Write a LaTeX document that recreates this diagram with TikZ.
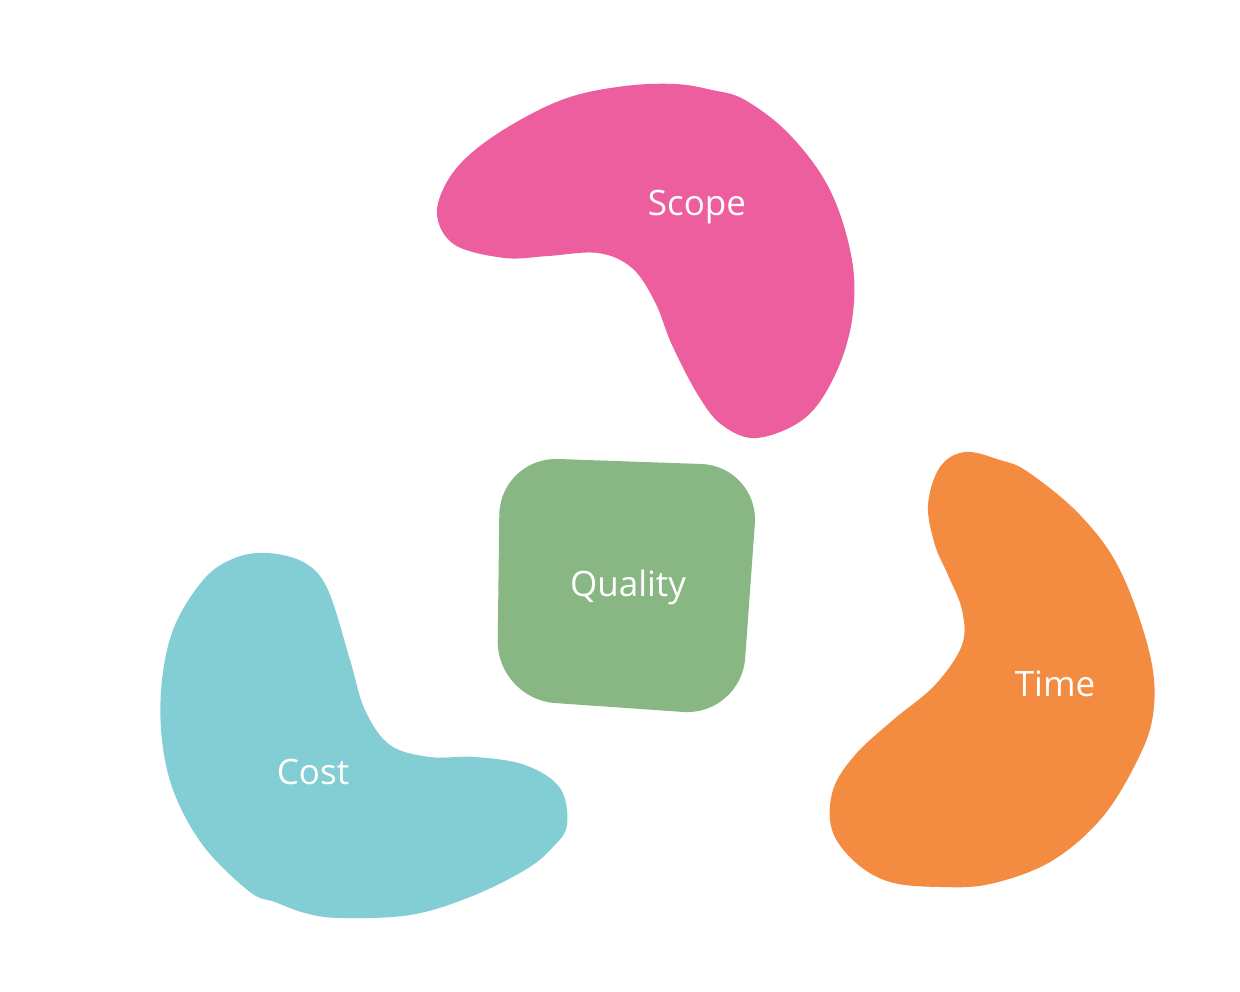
\documentclass[tikz,border=0pt]{standalone}
\usepackage{fontspec}
\setmainfont{Open Sans}
\definecolor{scopecol}{HTML}{ED5E9E}
\definecolor{qualcol}{HTML}{88B783}
\definecolor{timecol}{HTML}{F38B41}
\definecolor{costcol}{HTML}{83CED4}
\tikzset{
  blob/.style={draw=none},
  lbl/.style={text=white, font=\fontsize{35}{42}\selectfont}
}
\begin{document}
\begin{tikzpicture}[x=1pt,y=-1pt]
\useasboundingbox[fill=white] (0,0) rectangle (1240,992);
% Scope
\fill[scopecol] plot[smooth cycle, tension=0.6] coordinates {
 (675,84) (712,90) (745,100) (790,135) (830,190) (852,260) (852,320) (835,375)
 (805,418) (757,438) (722,425) (698,395) (672,345) (655,302) (632,268) (598,253)
 (548,256) (505,258) (455,245) (437,215) (448,180) (475,150) (520,120) (570,97) (625,86)};
% Quality
\fill[qualcol, rounded corners=58pt] (500,457) -- (759,466) -- (741,716) -- (497,699) -- cycle;
% Time
\fill[timecol] plot[smooth cycle, tension=0.6] coordinates {
 (965,452) (1000,460) (1028,472) (1080,515) (1120,570) (1150,655) (1153,715)
 (1135,765) (1100,820) (1050,862) (990,884) (940,887) (890,882) (855,862) (832,830)
 (833,790) (855,755) (893,720) (935,685) (962,645) (962,610) (948,575) (935,545)
 (928,505) (940,467)};
% Cost
\fill[costcol] plot[smooth cycle, tension=0.6] coordinates {
 (268,553) (305,563) (328,590) (350,660) (365,710) (390,745) (430,757) (475,757)
 (525,765) (560,788) (567,825) (552,848) (525,870) (470,897) (410,915) (340,918)
 (305,913) (275,902) (250,892) (205,848) (175,795) (162,740) (162,680) (175,625)
 (205,578) (235,558)};
\node[lbl] (scope) at (697,207) {Scope};
\node[lbl] (quality) at (628,587) {Quality};
\node[lbl] (time) at (1055,684) {Time};
\node[lbl] (cost) at (313,772) {Cost};
\end{tikzpicture}
\end{document}
